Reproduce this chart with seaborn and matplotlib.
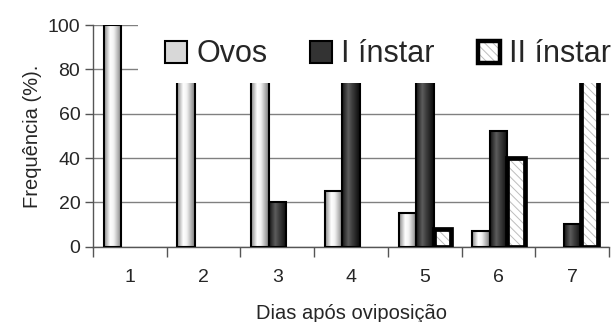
import numpy as np
import pandas as pd
import matplotlib
matplotlib.use("Agg")
import matplotlib.pyplot as plt
import seaborn as sns
from matplotlib.colors import LinearSegmentedColormap
from matplotlib.patches import Patch, Rectangle

# dados (frequência % por dia)
dias = ["1", "2", "3", "4", "5", "6", "7"]
estagios = ["Ovos", "I ínstar", "II ínstar"]
ovos = [100, 100, 80, 25, 15, 7, 0]
instar1 = [0, 0, 20, 75, 77, 52, 10]
instar2 = [0, 0, 0, 0, 8, 40, 85]

df = pd.DataFrame({
    "Dia": dias * 3,
    "Estagio": np.repeat(estagios, len(dias)),
    "Freq": ovos + instar1 + instar2,
})

sns.set_theme(style="white")
plt.rcParams["font.family"] = ["Liberation Sans", "DejaVu Sans"]
plt.rcParams["hatch.linewidth"] = 0.7
plt.rcParams["hatch.color"] = "#bdbdbd"

fig = plt.figure(figsize=(6.11, 3.22), dpi=100)
ax = fig.add_axes([0.152, 0.234, 0.845, 0.688])

sns.barplot(data=df, x="Dia", y="Freq", hue="Estagio", hue_order=estagios,
            palette=["#dddddd", "#333333", "white"], width=0.71, gap=0,
            edgecolor="black", linewidth=1.5, saturation=1, legend=False,
            ax=ax, zorder=3)

# gradientes tipo "cilindro"
cm_claro = LinearSegmentedColormap.from_list(
    "claro", [(0, "#8a8a8a"), (0.35, "#ffffff"), (0.55, "#f2f2f2"), (1, "#7c7c7c")])
cm_escuro = LinearSegmentedColormap.from_list(
    "escuro", [(0, "#151515"), (0.35, "#5c5c5c"), (0.6, "#3a3a3a"), (1, "#0a0a0a")])
grad = np.linspace(0, 1, 64).reshape(1, -1)

for cont, cmap in zip(ax.containers[:2], [cm_claro, cm_escuro]):
    for p in cont:
        h = p.get_height()
        if not h:
            p.set_visible(False)
            continue
        x, w = p.get_x(), p.get_width()
        im = ax.imshow(grad, cmap=cmap, extent=[x, x + w, 0, h], aspect="auto",
                       zorder=2, interpolation="bilinear")
        im.set_clip_path(p)
        p.set_facecolor("none")
        p.set_zorder(3)

for p in ax.containers[2]:
    h = p.get_height()
    if not h:
        p.set_visible(False)
        continue
    ax.add_patch(Rectangle((p.get_x(), 0), p.get_width(), h, facecolor="white",
                           edgecolor="#bdbdbd", hatch="\\\\\\\\", linewidth=0, zorder=2))
    p.set_facecolor("none")
    p.set_linewidth(3.4)
    p.set_zorder(3)

ax.set_xlim(-0.5, 6.5)
ax.set_ylim(0, 100)
ax.set_yticks(range(0, 101, 20))
ax.set_xticks(np.arange(-0.5, 7), minor=True)
ax.yaxis.grid(True, color="#808080", lw=1)
ax.set_axisbelow(True)
for s in ["top", "right"]:
    ax.spines[s].set_visible(False)
for s in ["left", "bottom"]:
    ax.spines[s].set_color("#555555")
    ax.spines[s].set_linewidth(1)
ax.tick_params(axis="y", direction="out", length=6, width=1, color="#555555",
               labelsize=14, pad=3, left=True)
ax.tick_params(axis="x", which="major", length=0, labelsize=14, pad=16)
ax.tick_params(axis="x", which="minor", direction="out", length=7, width=1,
               color="#555555", bottom=True)
ax.set_xlabel("Dias após oviposição", fontsize=14.5, labelpad=13)
ax.set_ylabel("Frequência (%).", fontsize=14.5, labelpad=4)

# caixa branca da legenda (cobre o topo das barras, como no original)
ax.add_patch(Rectangle((0.087, 0.738), 0.95, 0.4, transform=ax.transAxes,
                       facecolor="white", edgecolor="none", zorder=4.5, clip_on=False))

handles = [
    Patch(facecolor="#d8d8d8", edgecolor="black", lw=1.5),
    Patch(facecolor="#333333", edgecolor="black", lw=1.5),
    (Patch(facecolor="white", edgecolor="#bdbdbd", hatch="\\\\\\\\", lw=0),
     Patch(facecolor="none", edgecolor="black", lw=3.2)),
]
leg = ax.legend(handles, estagios, ncol=3, loc="lower right",
                bbox_to_anchor=(1.03, 0.738), fontsize=22, frameon=False,
                handlelength=0.72, handleheight=0.72, handletextpad=0.3,
                columnspacing=1.4, borderpad=0.45, borderaxespad=0)
leg.set_zorder(5)

fig.savefig("out.png", dpi=100)
